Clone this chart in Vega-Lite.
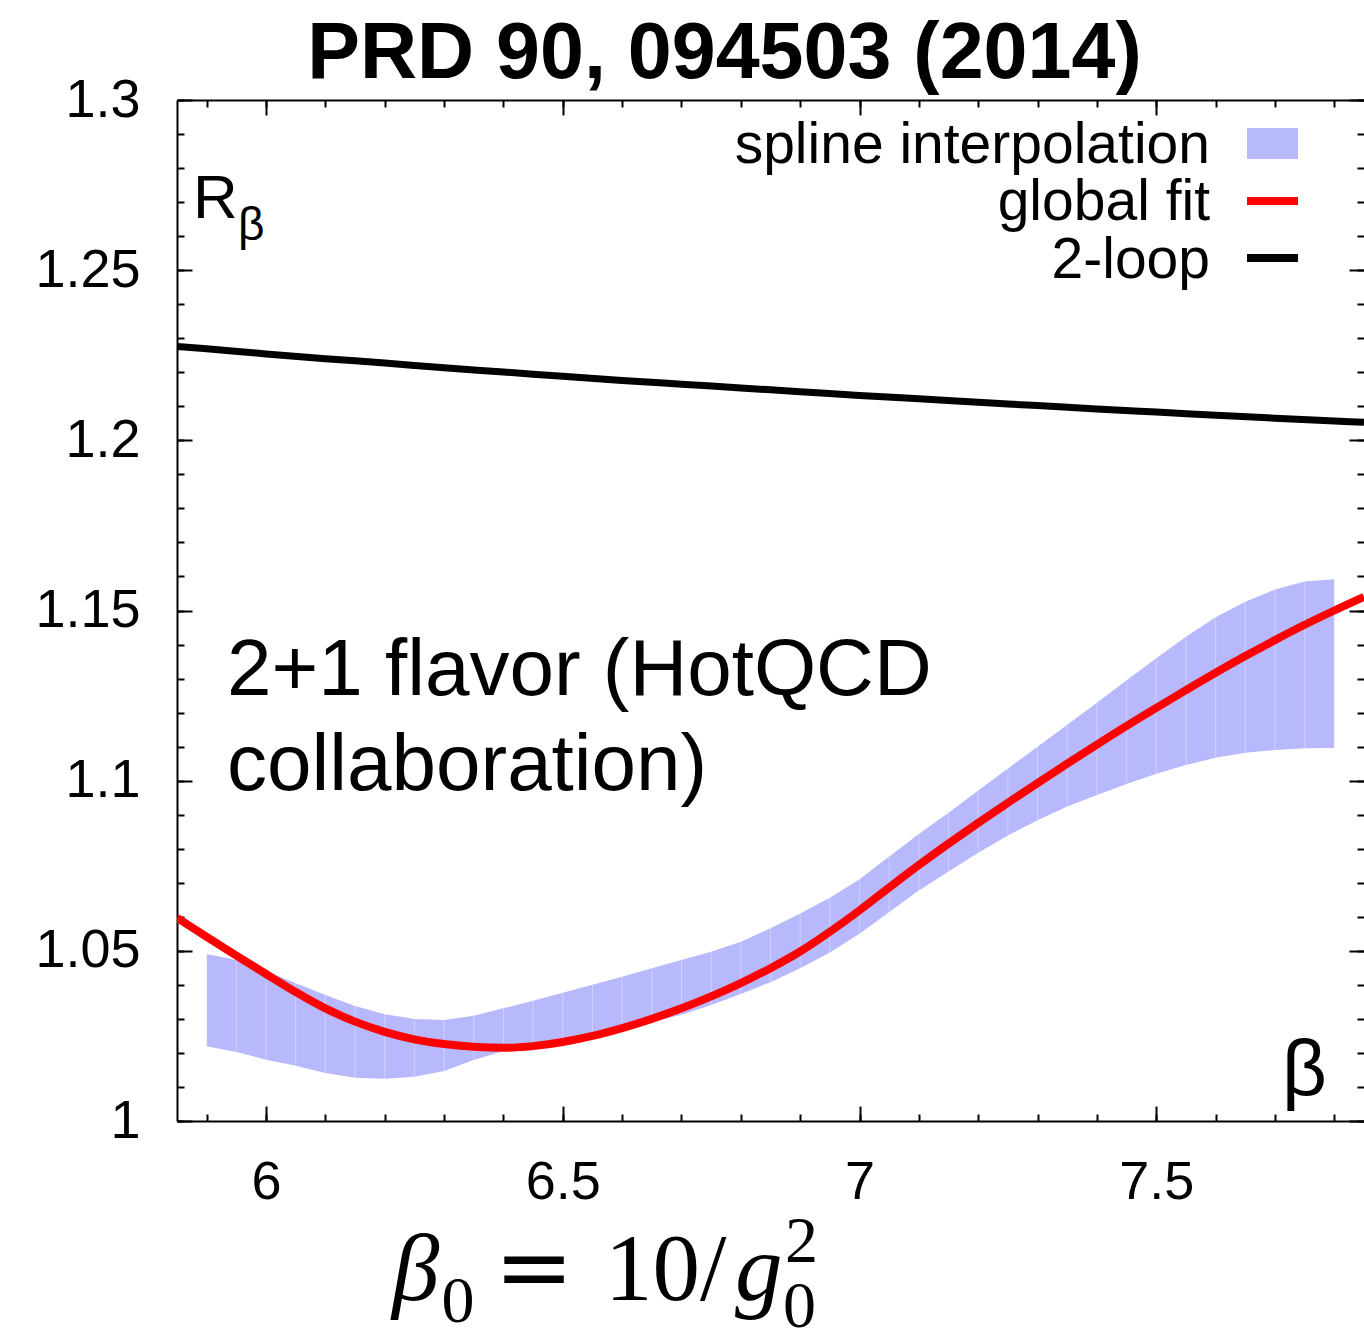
{
  "$schema": "https://vega.github.io/schema/vega-lite/v6.json",
  "width": 1187,
  "height": 1021,
  "autosize": {"type": "none"},
  "padding": {"left": 177, "top": 100, "right": 0, "bottom": 208},
  "background": "white",
  "config": {
    "view": {"stroke": null},
    "axis": {
      "grid": false,
      "domainColor": "black",
      "domainWidth": 2,
      "tickColor": "black",
      "tickWidth": 2,
      "labelFont": "Liberation Sans",
      "labelFontSize": 54,
      "labelColor": "black"
    }
  },
  "title": {
    "text": "PRD 90, 094503 (2014)",
    "font": "Liberation Sans",
    "fontSize": 79,
    "fontWeight": "bold",
    "color": "black",
    "anchor": "middle",
    "dx": -46,
    "offset": -22
  },
  "datasets": {
    "band": [
      {"beta": 5.90, "lo": 1.0220, "hi": 1.0491},
      {"beta": 5.95, "lo": 1.0203, "hi": 1.0473},
      {"beta": 6.00, "lo": 1.0180, "hi": 1.0441},
      {"beta": 6.05, "lo": 1.0162, "hi": 1.0405},
      {"beta": 6.10, "lo": 1.0141, "hi": 1.0370},
      {"beta": 6.15, "lo": 1.0127, "hi": 1.0338},
      {"beta": 6.20, "lo": 1.0124, "hi": 1.0314},
      {"beta": 6.25, "lo": 1.0130, "hi": 1.0300},
      {"beta": 6.30, "lo": 1.0147, "hi": 1.0297},
      {"beta": 6.35, "lo": 1.0179, "hi": 1.0309},
      {"beta": 6.40, "lo": 1.0206, "hi": 1.0331},
      {"beta": 6.45, "lo": 1.0216, "hi": 1.0353},
      {"beta": 6.50, "lo": 1.0229, "hi": 1.0377},
      {"beta": 6.55, "lo": 1.0248, "hi": 1.0400},
      {"beta": 6.60, "lo": 1.0268, "hi": 1.0424},
      {"beta": 6.65, "lo": 1.0291, "hi": 1.0449},
      {"beta": 6.70, "lo": 1.0312, "hi": 1.0473},
      {"beta": 6.75, "lo": 1.0341, "hi": 1.0497},
      {"beta": 6.80, "lo": 1.0373, "hi": 1.0527},
      {"beta": 6.85, "lo": 1.0408, "hi": 1.0566},
      {"beta": 6.90, "lo": 1.0449, "hi": 1.0610},
      {"beta": 6.95, "lo": 1.0495, "hi": 1.0656},
      {"beta": 7.00, "lo": 1.0550, "hi": 1.0710},
      {"beta": 7.05, "lo": 1.0614, "hi": 1.0777},
      {"beta": 7.10, "lo": 1.0677, "hi": 1.0843},
      {"beta": 7.15, "lo": 1.0733, "hi": 1.0906},
      {"beta": 7.20, "lo": 1.0788, "hi": 1.0971},
      {"beta": 7.25, "lo": 1.0839, "hi": 1.1036},
      {"beta": 7.30, "lo": 1.0884, "hi": 1.1100},
      {"beta": 7.35, "lo": 1.0924, "hi": 1.1164},
      {"beta": 7.40, "lo": 1.0958, "hi": 1.1229},
      {"beta": 7.45, "lo": 1.0990, "hi": 1.1295},
      {"beta": 7.50, "lo": 1.1020, "hi": 1.1360},
      {"beta": 7.55, "lo": 1.1046, "hi": 1.1423},
      {"beta": 7.60, "lo": 1.1067, "hi": 1.1480},
      {"beta": 7.65, "lo": 1.1082, "hi": 1.1526},
      {"beta": 7.70, "lo": 1.1090, "hi": 1.1562},
      {"beta": 7.75, "lo": 1.1095, "hi": 1.1585},
      {"beta": 7.80, "lo": 1.1096, "hi": 1.1592}
    ],
    "fit": [
      {"beta": 5.85, "r": 1.0597},
      {"beta": 5.90, "r": 1.0541},
      {"beta": 5.95, "r": 1.0486},
      {"beta": 6.00, "r": 1.0432},
      {"beta": 6.05, "r": 1.0379},
      {"beta": 6.10, "r": 1.0331},
      {"beta": 6.15, "r": 1.0292},
      {"beta": 6.20, "r": 1.0262},
      {"beta": 6.25, "r": 1.0240},
      {"beta": 6.30, "r": 1.0226},
      {"beta": 6.35, "r": 1.0218},
      {"beta": 6.40, "r": 1.0215},
      {"beta": 6.45, "r": 1.0220},
      {"beta": 6.50, "r": 1.0232},
      {"beta": 6.55, "r": 1.0250},
      {"beta": 6.60, "r": 1.0273},
      {"beta": 6.65, "r": 1.0300},
      {"beta": 6.70, "r": 1.0331},
      {"beta": 6.75, "r": 1.0366},
      {"beta": 6.80, "r": 1.0405},
      {"beta": 6.85, "r": 1.0449},
      {"beta": 6.90, "r": 1.0498},
      {"beta": 6.95, "r": 1.0556},
      {"beta": 7.00, "r": 1.0619},
      {"beta": 7.05, "r": 1.0686},
      {"beta": 7.10, "r": 1.0752},
      {"beta": 7.15, "r": 1.0815},
      {"beta": 7.20, "r": 1.0876},
      {"beta": 7.25, "r": 1.0935},
      {"beta": 7.30, "r": 1.0993},
      {"beta": 7.35, "r": 1.1050},
      {"beta": 7.40, "r": 1.1106},
      {"beta": 7.45, "r": 1.1161},
      {"beta": 7.50, "r": 1.1214},
      {"beta": 7.55, "r": 1.1266},
      {"beta": 7.60, "r": 1.1317},
      {"beta": 7.65, "r": 1.1366},
      {"beta": 7.70, "r": 1.1413},
      {"beta": 7.75, "r": 1.1458},
      {"beta": 7.80, "r": 1.1500},
      {"beta": 7.85, "r": 1.1540}
    ],
    "twoloop": [
      {"beta": 5.85, "r": 1.2276},
      {"beta": 5.90, "r": 1.2269},
      {"beta": 6.00, "r": 1.2254},
      {"beta": 6.10, "r": 1.2240},
      {"beta": 6.20, "r": 1.2227},
      {"beta": 6.30, "r": 1.2213},
      {"beta": 6.40, "r": 1.2201},
      {"beta": 6.50, "r": 1.2188},
      {"beta": 6.60, "r": 1.2176},
      {"beta": 6.70, "r": 1.2165},
      {"beta": 6.80, "r": 1.2154},
      {"beta": 6.90, "r": 1.2143},
      {"beta": 7.00, "r": 1.2132},
      {"beta": 7.10, "r": 1.2122},
      {"beta": 7.20, "r": 1.2112},
      {"beta": 7.30, "r": 1.2102},
      {"beta": 7.40, "r": 1.2092},
      {"beta": 7.50, "r": 1.2083},
      {"beta": 7.60, "r": 1.2074},
      {"beta": 7.70, "r": 1.2065},
      {"beta": 7.80, "r": 1.2057},
      {"beta": 7.85, "r": 1.2053}
    ],
    "one": [{}]
  },
  "resolve": {"axis": {"x": "independent", "y": "independent"}},
  "layer": [
    {
      "data": {"name": "band"},
      "mark": {"type": "area", "color": "#b8b8fd", "opacity": 1, "interpolate": "linear"},
      "encoding": {
        "x": {"field": "beta", "type": "quantitative", "title": null, "scale": {"domain": [5.85, 7.85]},
          "axis": {"orient": "bottom", "values": [6, 6.5, 7, 7.5], "format": "~g", "tickSize": -15, "labelPadding": 49, "domain": true}},
        "y": {"field": "lo", "type": "quantitative", "title": null, "scale": {"domain": [1, 1.3]},
          "axis": {"orient": "left", "values": [1, 1.05, 1.1, 1.15, 1.2, 1.25, 1.3], "format": "~g", "tickSize": -15, "labelPadding": 52, "domain": true}},
        "y2": {"field": "hi"}
      }
    },
    {
      "data": {"name": "band"},
      "mark": {"type": "rule", "color": "white", "opacity": 0.35, "strokeWidth": 1},
      "encoding": {
        "x": {"field": "beta", "type": "quantitative", "scale": {"domain": [5.85, 7.85]}, "axis": null},
        "y": {"field": "lo", "type": "quantitative", "scale": {"domain": [1, 1.3]}, "axis": null},
        "y2": {"field": "hi"}
      }
    },
    {
      "data": {"name": "fit"},
      "mark": {"type": "line", "color": "#ff0000", "strokeWidth": 8, "interpolate": "monotone", "clip": true},
      "encoding": {
        "x": {"field": "beta", "type": "quantitative", "title": null, "scale": {"domain": [5.85, 7.85]},
          "axis": {"orient": "bottom", "values": [5.9, 6, 6.1, 6.2, 6.3, 6.4, 6.5, 6.6, 6.7, 6.8, 6.9, 7, 7.1, 7.2, 7.3, 7.4, 7.5, 7.6, 7.7, 7.8], "labels": false, "tickSize": -7, "domain": false}},
        "y": {"field": "r", "type": "quantitative", "title": null, "scale": {"domain": [1, 1.3]},
          "axis": {"orient": "left", "values": [1, 1.01, 1.02, 1.03, 1.04, 1.05, 1.06, 1.07, 1.08, 1.09, 1.1, 1.11, 1.12, 1.13, 1.14, 1.15, 1.16, 1.17, 1.18, 1.19, 1.2, 1.21, 1.22, 1.23, 1.24, 1.25, 1.26, 1.27, 1.28, 1.29, 1.3], "labels": false, "tickSize": -7, "domain": false}}
      }
    },
    {
      "data": {"name": "twoloop"},
      "mark": {"type": "line", "color": "black", "strokeWidth": 7, "interpolate": "monotone", "clip": true},
      "encoding": {
        "x": {"field": "beta", "type": "quantitative", "title": null, "scale": {"domain": [5.85, 7.85]},
          "axis": {"orient": "top", "values": [6, 6.5, 7, 7.5], "labels": false, "tickSize": -15, "domain": true}},
        "y": {"field": "r", "type": "quantitative", "title": null, "scale": {"domain": [1, 1.3]},
          "axis": {"orient": "right", "values": [1, 1.05, 1.1, 1.15, 1.2, 1.25, 1.3], "labels": false, "tickSize": -15, "domain": false}}
      }
    },
    {
      "data": {"name": "one"},
      "mark": {"type": "rect", "color": "#b8b8fd"},
      "encoding": {
        "x": {"datum": 7.6529, "type": "quantitative", "title": null, "scale": {"domain": [5.85, 7.85]},
          "axis": {"orient": "top", "values": [5.9, 6, 6.1, 6.2, 6.3, 6.4, 6.5, 6.6, 6.7, 6.8, 6.9, 7, 7.1, 7.2, 7.3, 7.4, 7.5, 7.6, 7.7, 7.8], "labels": false, "tickSize": -7, "domain": false}},
        "x2": {"datum": 7.7388},
        "y": {"datum": 1.29178, "type": "quantitative", "title": null, "scale": {"domain": [1, 1.3]},
          "axis": {"orient": "right", "values": [1, 1.01, 1.02, 1.03, 1.04, 1.05, 1.06, 1.07, 1.08, 1.09, 1.1, 1.11, 1.12, 1.13, 1.14, 1.15, 1.16, 1.17, 1.18, 1.19, 1.2, 1.21, 1.22, 1.23, 1.24, 1.25, 1.26, 1.27, 1.28, 1.29, 1.3], "labels": false, "tickSize": -7, "domain": false}},
        "y2": {"datum": 1.28267}
      }
    },
    {
      "data": {"name": "one"},
      "mark": {"type": "rule", "color": "#ff0000", "strokeWidth": 8},
      "encoding": {
        "x": {"datum": 7.6529, "type": "quantitative", "scale": {"domain": [5.85, 7.85]}, "axis": null},
        "x2": {"datum": 7.7388},
        "y": {"datum": 1.27033, "type": "quantitative", "scale": {"domain": [1, 1.3]}, "axis": null}
      }
    },
    {
      "data": {"name": "one"},
      "mark": {"type": "rule", "color": "black", "strokeWidth": 8},
      "encoding": {
        "x": {"datum": 7.6529, "type": "quantitative", "scale": {"domain": [5.85, 7.85]}, "axis": null},
        "x2": {"datum": 7.7388},
        "y": {"datum": 1.25358, "type": "quantitative", "scale": {"domain": [1, 1.3]}, "axis": null}
      }
    },
    {
      "data": {"name": "one"},
      "mark": {"type": "text", "align": "right", "baseline": "alphabetic", "font": "Liberation Sans", "fontSize": 57, "color": "black"},
      "encoding": {
        "x": {"datum": 7.5905, "type": "quantitative", "scale": {"domain": [5.85, 7.85]}, "axis": null},
        "y": {"datum": 1.28149, "type": "quantitative", "scale": {"domain": [1, 1.3]}, "axis": null},
        "text": {"value": "spline interpolation"}
      }
    },
    {
      "data": {"name": "one"},
      "mark": {"type": "text", "align": "right", "baseline": "alphabetic", "font": "Liberation Sans", "fontSize": 57, "color": "black"},
      "encoding": {
        "x": {"datum": 7.5905, "type": "quantitative", "scale": {"domain": [5.85, 7.85]}, "axis": null},
        "y": {"datum": 1.26475, "type": "quantitative", "scale": {"domain": [1, 1.3]}, "axis": null},
        "text": {"value": "global fit"}
      }
    },
    {
      "data": {"name": "one"},
      "mark": {"type": "text", "align": "right", "baseline": "alphabetic", "font": "Liberation Sans", "fontSize": 57, "color": "black"},
      "encoding": {
        "x": {"datum": 7.5905, "type": "quantitative", "scale": {"domain": [5.85, 7.85]}, "axis": null},
        "y": {"datum": 1.2477, "type": "quantitative", "scale": {"domain": [1, 1.3]}, "axis": null},
        "text": {"value": "2-loop"}
      }
    },
    {
      "data": {"name": "one"},
      "mark": {"type": "text", "align": "left", "baseline": "alphabetic", "font": "Liberation Sans", "fontSize": 62, "color": "black"},
      "encoding": {
        "x": {"datum": 5.877, "type": "quantitative", "scale": {"domain": [5.85, 7.85]}, "axis": null},
        "y": {"datum": 1.2653, "type": "quantitative", "scale": {"domain": [1, 1.3]}, "axis": null},
        "text": {"value": "R"}
      }
    },
    {
      "data": {"name": "one"},
      "mark": {"type": "text", "align": "left", "baseline": "alphabetic", "font": "Liberation Sans", "fontSize": 46, "color": "black"},
      "encoding": {
        "x": {"datum": 5.9528, "type": "quantitative", "scale": {"domain": [5.85, 7.85]}, "axis": null},
        "y": {"datum": 1.2589, "type": "quantitative", "scale": {"domain": [1, 1.3]}, "axis": null},
        "text": {"value": "β"}
      }
    },
    {
      "data": {"name": "one"},
      "mark": {"type": "text", "align": "left", "baseline": "alphabetic", "font": "Liberation Sans", "fontSize": 78, "color": "black"},
      "encoding": {
        "x": {"datum": 7.7118, "type": "quantitative", "scale": {"domain": [5.85, 7.85]}, "axis": null},
        "y": {"datum": 1.0076, "type": "quantitative", "scale": {"domain": [1, 1.3]}, "axis": null},
        "text": {"value": "β"}
      }
    },
    {
      "data": {"name": "one"},
      "mark": {"type": "text", "align": "left", "baseline": "alphabetic", "font": "Liberation Sans", "fontSize": 80, "color": "black"},
      "encoding": {
        "x": {"datum": 5.9342, "type": "quantitative", "scale": {"domain": [5.85, 7.85]}, "axis": null},
        "y": {"datum": 1.1252, "type": "quantitative", "scale": {"domain": [1, 1.3]}, "axis": null},
        "text": {"value": "2+1 flavor (HotQCD"}
      }
    },
    {
      "data": {"name": "one"},
      "mark": {"type": "text", "align": "left", "baseline": "alphabetic", "font": "Liberation Sans", "fontSize": 80, "color": "black"},
      "encoding": {
        "x": {"datum": 5.9342, "type": "quantitative", "scale": {"domain": [5.85, 7.85]}, "axis": null},
        "y": {"datum": 1.0973, "type": "quantitative", "scale": {"domain": [1, 1.3]}, "axis": null},
        "text": {"value": "collaboration)"}
      }
    },
    {
      "data": {"name": "one"},
      "mark": {"type": "text", "align": "left", "baseline": "alphabetic", "font": "Liberation Serif", "fontStyle": "italic", "fontSize": 95, "color": "black"},
      "encoding": {
        "x": {"datum": 6.2123, "type": "quantitative", "scale": {"domain": [5.85, 7.85]}, "axis": null},
        "y": {"datum": 0.9474, "type": "quantitative", "scale": {"domain": [1, 1.3]}, "axis": null},
        "text": {"value": "β"}
      }
    },
    {
      "data": {"name": "one"},
      "mark": {"type": "text", "align": "left", "baseline": "alphabetic", "font": "Liberation Serif", "fontSize": 66, "color": "black"},
      "encoding": {
        "x": {"datum": 6.2958, "type": "quantitative", "scale": {"domain": [5.85, 7.85]}, "axis": null},
        "y": {"datum": 0.9409, "type": "quantitative", "scale": {"domain": [1, 1.3]}, "axis": null},
        "text": {"value": "0"}
      }
    },
    {
      "data": {"name": "one"},
      "mark": {"type": "text", "align": "center", "baseline": "alphabetic", "font": "DejaVu Serif", "fontSize": 95, "color": "black"},
      "encoding": {
        "x": {"datum": 6.4515, "type": "quantitative", "scale": {"domain": [5.85, 7.85]}, "axis": null},
        "y": {"datum": 0.9474, "type": "quantitative", "scale": {"domain": [1, 1.3]}, "axis": null},
        "text": {"value": "="}
      }
    },
    {
      "data": {"name": "one"},
      "mark": {"type": "text", "align": "left", "baseline": "alphabetic", "font": "Liberation Serif", "fontSize": 95, "color": "black"},
      "encoding": {
        "x": {"datum": 6.5712, "type": "quantitative", "scale": {"domain": [5.85, 7.85]}, "axis": null},
        "y": {"datum": 0.9474, "type": "quantitative", "scale": {"domain": [1, 1.3]}, "axis": null},
        "text": {"value": "10/"}
      }
    },
    {
      "data": {"name": "one"},
      "mark": {"type": "text", "align": "left", "baseline": "alphabetic", "font": "Liberation Serif", "fontStyle": "italic", "fontSize": 95, "color": "black"},
      "encoding": {
        "x": {"datum": 6.7902, "type": "quantitative", "scale": {"domain": [5.85, 7.85]}, "axis": null},
        "y": {"datum": 0.9474, "type": "quantitative", "scale": {"domain": [1, 1.3]}, "axis": null},
        "text": {"value": "g"}
      }
    },
    {
      "data": {"name": "one"},
      "mark": {"type": "text", "align": "left", "baseline": "alphabetic", "font": "Liberation Serif", "fontSize": 66, "color": "black"},
      "encoding": {
        "x": {"datum": 6.8711, "type": "quantitative", "scale": {"domain": [5.85, 7.85]}, "axis": null},
        "y": {"datum": 0.9395, "type": "quantitative", "scale": {"domain": [1, 1.3]}, "axis": null},
        "text": {"value": "0"}
      }
    },
    {
      "data": {"name": "one"},
      "mark": {"type": "text", "align": "left", "baseline": "alphabetic", "font": "Liberation Serif", "fontSize": 66, "color": "black"},
      "encoding": {
        "x": {"datum": 6.8745, "type": "quantitative", "scale": {"domain": [5.85, 7.85]}, "axis": null},
        "y": {"datum": 0.9586, "type": "quantitative", "scale": {"domain": [1, 1.3]}, "axis": null},
        "text": {"value": "2"}
      }
    }
  ]
}
